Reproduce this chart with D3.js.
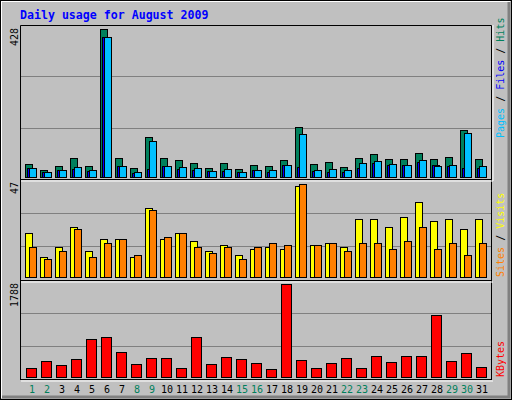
<!DOCTYPE html>
<html><head><meta charset="utf-8">
<script src="https://cdn.jsdelivr.net/npm/d3@7"></script>
<style>body{margin:0;background:#fff}svg{display:block}</style>
</head><body>
<svg width="512" height="400"></svg>
<script>
// daily values, August 2009
const days = d3.range(1, 32);
const weekend = [1, 2, 8, 9, 15, 16, 22, 23, 29, 30];
const hits  = [37,18,31,54,31,428,54,25,115,54,48,40,25,40,22,34,31,48,144,37,43,28,54,66,51,51,69,51,57,136,51];
const files = [25,14,19,28,19,406,31,14,104,31,28,25,16,22,14,19,19,34,124,19,22,19,40,45,37,34,48,31,34,127,31];
const pages = [25,14,19,22,16,406,31,10,22,31,22,20,16,16,12,19,14,34,27,16,14,14,25,40,34,34,43,34,31,25,25];
const visits = [22,10,15,25,13,19,19,10,35,19,22,18,13,16,11,14,15,14,46,16,17,15,29,29,25,30,38,28,29,24,29];
const sites  = [15,9,13,24,10,17,19,11,34,20,22,15,12,15,9,15,17,16,47,16,17,13,17,17,14,18,25,14,17,11,17];
const kbytes = [170,307,228,346,718,757,483,248,365,365,170,757,248,385,346,268,150,1788,326,170,268,365,170,405,287,405,405,1188,307,463,189];
const maxHits = 428, maxVisits = 47, maxKB = 1788;

const svg = d3.select('svg');
const mono = 'DejaVu Sans Mono';

// background + bevel
svg.append('rect').attr('width', 512).attr('height', 400).attr('fill', '#c0c0c0');
svg.append('path').attr('d', 'M1,398V1H510').attr('stroke', '#fff').attr('stroke-width', 2).attr('fill', 'none');
svg.append('path').attr('d', 'M2,397H509V2').attr('stroke', '#808080').attr('stroke-width', 3).attr('fill', 'none');
svg.append('rect').attr('x', 0.5).attr('y', 0.5).attr('width', 511).attr('height', 399).attr('stroke', '#000').attr('fill', 'none');

svg.append('text').attr('x', 20).attr('y', 19).text('Daily usage for August 2009')
  .attr('font-family', mono).attr('font-weight', 'bold').attr('font-size', 11.6).attr('fill', '#0000ff');

const x = d3.scaleLinear().domain([1, 31]).range([25, 475]);

const panels = [
  {top: 25, bottom: 179, y: d3.scaleLinear().domain([0, maxHits]).range([176.5, 29.3]), label: maxHits},
  {top: 179, bottom: 280, y: d3.scaleLinear().domain([0, maxVisits]).range([276.5, 184]), label: maxVisits},
  {top: 280, bottom: 379, y: d3.scaleLinear().domain([0, maxKB]).range([376.5, 284]), label: maxKB}
];

panels.forEach(p => {
  const h = p.bottom - p.top;
  [1, 2].forEach(i => svg.append('line').attr('x1', 21).attr('x2', 491)
    .attr('y1', Math.round(p.top + h * i / 3) + 0.5).attr('y2', Math.round(p.top + h * i / 3) + 0.5)
    .attr('stroke', '#808080'));
  svg.append('text').attr('transform', `translate(18,${p.top + 3}) rotate(-90)`)
    .attr('text-anchor', 'end').attr('font-family', mono).attr('font-size', 10).text(p.label);
});
// panel frames
svg.append('path').attr('d', 'M20.5,380V25.5H491.5V380M20,179.5H492M20,280.5H492M20,379.5H492')
  .attr('stroke', '#000').attr('fill', 'none');
svg.append('path').attr('d', 'M21,181H493V25M21,282H493M21,381H493')
  .attr('stroke', '#fff').attr('fill', 'none').attr('stroke-width', 1);

function bars(vals, y, dx, w, color) {
  svg.append('g').selectAll('rect').data(vals).join('rect')
    .attr('x', (d, i) => x(days[i]) + dx + 0.5)
    .attr('y', d => Math.round(y(d)) + 0.5)
    .attr('width', w)
    .attr('height', d => Math.round(y(0)) - Math.round(y(d)))
    .attr('fill', color).attr('stroke', '#000');
}
bars(hits, panels[0].y, 0, 7, '#00805c');
bars(pages, panels[0].y, 2, 7, '#0000ff');
bars(files, panels[0].y, 4, 7, '#00c0ff');
bars(visits, panels[1].y, 0, 7, '#ffff00');
bars(sites, panels[1].y, 4, 7, '#ff8000');
bars(kbytes, panels[2].y, 1, 10, '#ff0000');

// day labels
svg.append('g').selectAll('text').data(days).join('text')
  .attr('x', d => x(d) + 7).attr('y', 393).attr('text-anchor', 'middle')
  .attr('font-family', mono).attr('font-size', 10)
  .attr('fill', d => weekend.includes(d) ? '#00805c' : '#000').text(d => d);

// right legends
function legend(yStart, parts) {
  const t = svg.append('text').attr('transform', `translate(504,${yStart}) rotate(-90)`)
    .attr('font-family', mono).attr('font-size', 10);
  parts.forEach(([s, c]) => t.append('tspan').attr('fill', c).text(s));
}
legend(138, [['Pages', '#00c0ff'], [' / ', '#000'], ['Files', '#0000ff'], [' / ', '#000'], ['Hits', '#00805c']]);
legend(277, [['Sites', '#ff8000'], [' / ', '#000'], ['Visits', '#ffff00']]);
legend(377, [['KBytes', '#ff0000']]);
</script>
</body></html>
